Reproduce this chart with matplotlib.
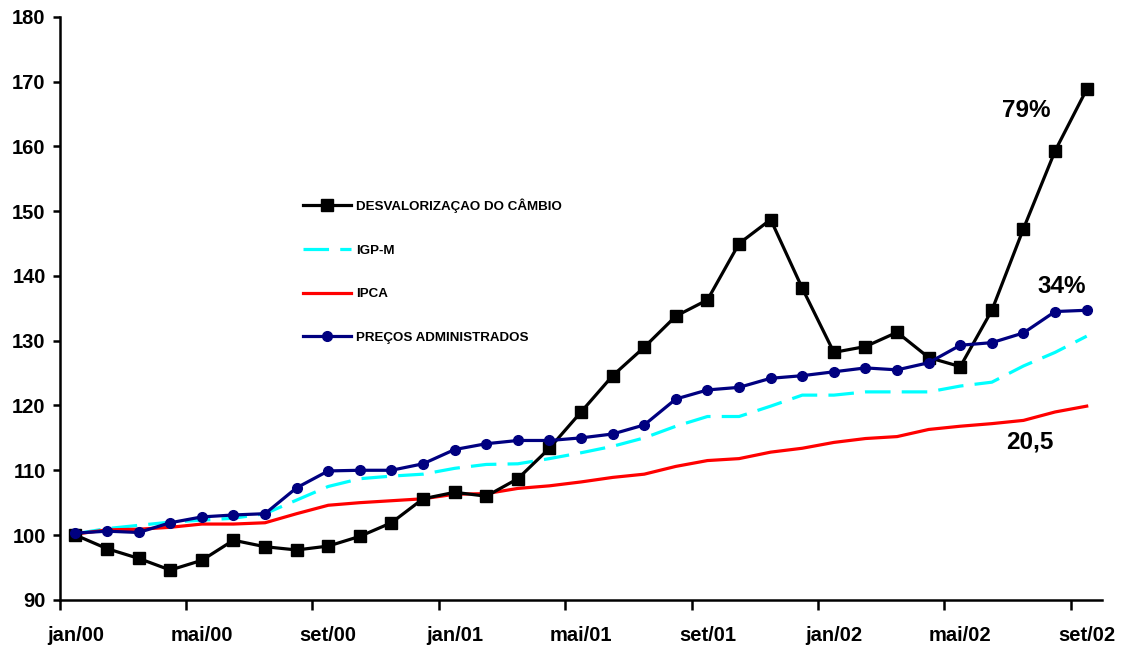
import matplotlib
matplotlib.use("Agg")
import matplotlib.pyplot as plt
from matplotlib.ticker import FixedLocator, NullFormatter

# monthly index, jan/2000 = 100
months = ["jan/00", "fev/00", "mar/00", "abr/00", "mai/00", "jun/00", "jul/00", "ago/00",
          "set/00", "out/00", "nov/00", "dez/00", "jan/01", "fev/01", "mar/01", "abr/01",
          "mai/01", "jun/01", "jul/01", "ago/01", "set/01", "out/01", "nov/01", "dez/01",
          "jan/02", "fev/02", "mar/02", "abr/02", "mai/02", "jun/02", "jul/02", "ago/02",
          "set/02"]

cambio = [100.0, 97.9, 96.4, 94.6, 96.1, 99.2, 98.2, 97.7, 98.3, 99.8, 101.9, 105.6,
          106.6, 106.0, 108.7, 113.4, 119.0, 124.6, 129.0, 133.8, 136.3, 145.0, 148.7,
          138.1, 128.2, 129.1, 131.3, 127.4, 126.0, 134.7, 147.3, 159.3, 168.8]

igpm = [100.2, 101.0, 101.5, 102.0, 102.3, 102.6, 103.3, 105.4, 107.5, 108.7, 109.1,
        109.4, 110.3, 110.9, 111.0, 111.8, 112.7, 113.7, 115.0, 116.8, 118.3, 118.3,
        119.9, 121.6, 121.6, 122.1, 122.1, 122.1, 123.0, 123.6, 126.1, 128.2, 130.7]

ipca = [100.15, 100.8, 100.9, 101.2, 101.7, 101.7, 101.9, 103.3, 104.6, 105.0, 105.3,
        105.6, 106.3, 106.4, 107.2, 107.6, 108.2, 108.9, 109.4, 110.6, 111.5, 111.8,
        112.8, 113.4, 114.3, 114.9, 115.2, 116.3, 116.8, 117.2, 117.7, 119.0, 119.9]

administrados = [100.3, 100.6, 100.4, 101.9, 102.8, 103.1, 103.3, 107.3, 109.9, 110.0,
                 110.0, 111.0, 113.2, 114.1, 114.6, 114.6, 115.0, 115.6, 117.0, 121.0,
                 122.4, 122.8, 124.2, 124.6, 125.2, 125.8, 125.5, 126.6, 129.3, 129.7,
                 131.2, 134.5, 134.7]

annotations = [("79%", 30.1, 165.6), ("34%", 31.2, 138.3), ("20,5", 30.2, 114.3)]

x = list(range(len(months)))

fig = plt.figure(figsize=(11.25, 6.45), dpi=100)
ax = fig.add_axes([0.053, 0.07, 0.927, 0.904])

ax.plot(x, cambio, color="black", lw=2.3, marker="s", ms=9,
        label="DESVALORIZAÇAO DO CÂMBIO", zorder=4)
ax.plot(x, igpm, color="#00ffff", lw=2.3, dashes=(8, 3.5),
        label="IGP-M", zorder=2)
ax.plot(x, ipca, color="#ff0000", lw=2.3, label="IPCA", zorder=3)
ax.plot(x, administrados, color="#000080", lw=2.3, marker="o", ms=7,
        label="PREÇOS ADMINISTRADOS", zorder=5)

for txt, xi, yi in annotations:
    ax.text(xi, yi, txt, fontsize=17.5, fontweight="bold", ha="center", va="center",
            family="Liberation Sans")

ax.set_xlim(-0.5, len(months) - 0.5)
ax.set_ylim(90, 180)
ax.set_yticks(range(90, 181, 10))

# ticks between months, labels every 4 months centred on the month
ax.xaxis.set_major_locator(FixedLocator([i - 0.5 for i in range(0, len(months), 4)]))
ax.xaxis.set_major_formatter(NullFormatter())
ax.xaxis.set_minor_locator(FixedLocator(list(range(0, len(months), 4))))
ax.set_xticklabels([months[i] for i in range(0, len(months), 4)], minor=True)
ax.tick_params(axis="x", which="major", length=7, width=1.8, direction="out")
ax.tick_params(axis="x", which="minor", length=0, pad=19)
ax.tick_params(axis="y", length=5, width=1.8, direction="out", pad=5)

for lab in ax.get_xticklabels(minor=True) + ax.get_yticklabels():
    lab.set_fontsize(14.5)
    lab.set_fontweight("bold")
    lab.set_family("Liberation Sans")

for side in ("top", "right"):
    ax.spines[side].set_visible(False)
for side in ("left", "bottom"):
    ax.spines[side].set_linewidth(1.8)

leg = ax.legend(loc="upper left", bbox_to_anchor=(0.222, 0.709), frameon=False,
                handlelength=3.6, handletextpad=0.35, labelspacing=2.35,
                prop={"family": ["Liberation Sans Narrow", "Liberation Sans"],
                      "weight": "bold", "size": 9.6})

fig.savefig("out.png", dpi=100)
